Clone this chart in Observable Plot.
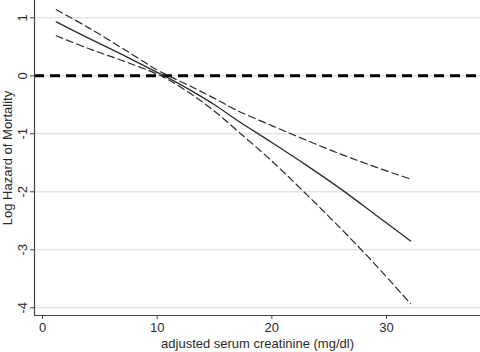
<!DOCTYPE html>
<html>
<head>
<meta charset="utf-8">
<script src="https://cdn.jsdelivr.net/npm/d3@7"></script>
<script src="https://cdn.jsdelivr.net/npm/@observablehq/plot@0.6"></script>
<style>
  html, body { margin: 0; padding: 0; background: #fff; }
</style>
</head>
<body>
<div id="chart"></div>
<script>
const creatinine = [1.2, 4, 7, 10, 11, 13, 15, 17, 20, 23, 26, 29, 32.1];
const logHazard  = [0.93, 0.65, 0.36, 0.06, -0.04, -0.26, -0.50, -0.77, -1.15, -1.54, -1.95, -2.39, -2.85];
const upperCI    = [1.14, 0.83, 0.47, 0.10, 0.00, -0.19, -0.39, -0.60, -0.86, -1.11, -1.35, -1.57, -1.78];
const lowerCI    = [0.69, 0.47, 0.26, 0.03, -0.07, -0.32, -0.61, -0.95, -1.47, -2.04, -2.63, -3.25, -3.93];
const xTicks = [0, 10, 20, 30];
const yTicks = [1, 0, -1, -2, -3, -4];
const refLine = [0];

const rows = creatinine.map((x, i) => ({x, fit: logHazard[i], hi: upperCI[i], lo: lowerCI[i]}));

const ink = "#2a2a2a";
const chart = Plot.plot({
  width: 480,
  height: 352,
  marginLeft: 34,
  marginRight: 0,
  marginTop: 0,
  marginBottom: 37,
  style: {fontFamily: "'Liberation Sans', Arial, sans-serif", fontSize: "13px", color: ink, background: "#fff"},
  x: {domain: [-0.7, 38.2]},
  y: {domain: [-4.133, 1.298]},
  marks: [
    Plot.gridY(yTicks, {stroke: "#d8d8d8", strokeOpacity: 1, strokeWidth: 1}),
    Plot.ruleY(refLine, {stroke: "#000", strokeWidth: 3, strokeDasharray: "10,6"}),
    Plot.line(rows, {x: "x", y: "hi", curve: "catmull-rom", stroke: ink, strokeWidth: 1.2, strokeDasharray: "7,4"}),
    Plot.line(rows, {x: "x", y: "lo", curve: "catmull-rom", stroke: ink, strokeWidth: 1.2, strokeDasharray: "7,4"}),
    Plot.line(rows, {x: "x", y: "fit", curve: "catmull-rom", stroke: ink, strokeWidth: 1.3}),
    Plot.frame({anchor: "left", stroke: "#444", strokeWidth: 1.2}),
    Plot.frame({anchor: "bottom", stroke: "#444", strokeWidth: 1.2}),
    Plot.axisX(xTicks, {tickSize: 4, tickPadding: 3, stroke: "#444", tickFormat: d => String(d), label: "adjusted serum creatinine (mg/dl)", labelAnchor: "center", labelArrow: "none", labelOffset: 32}),
    Plot.axisY(yTicks, {tickSize: 4, tickPadding: 4, tickRotate: -90, stroke: "#444", tickFormat: d => String(d), label: "Log Hazard of Mortality", labelAnchor: "center", labelArrow: "none", labelOffset: 32})
  ]
});
document.getElementById("chart").appendChild(chart);
</script>
</body>
</html>
